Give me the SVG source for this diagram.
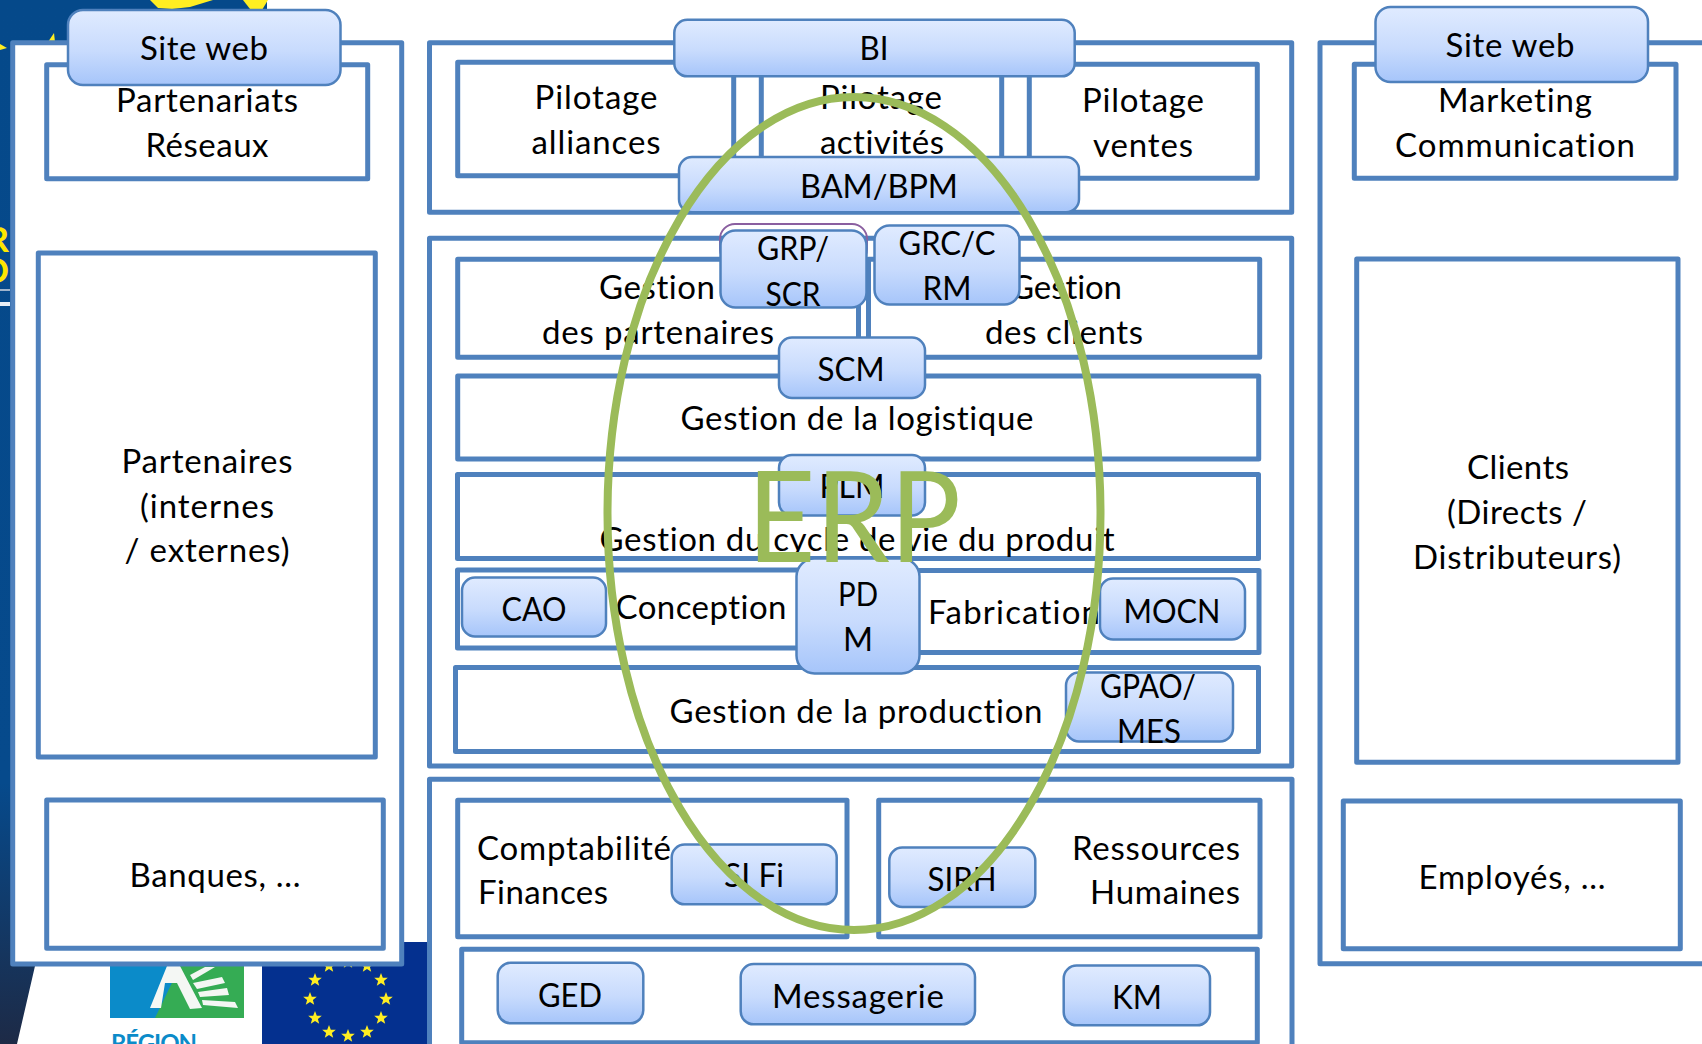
<svg xmlns="http://www.w3.org/2000/svg" width="1702" height="1044" viewBox="0 0 1702 1044">
<style>
text{font-family:"Lato","Noto Sans","Liberation Sans",sans-serif;font-size:33px;fill:#000;text-anchor:middle;font-variant-ligatures:none}
.p{fill:#fff;stroke:#4F81BD;stroke-width:5;stroke-linejoin:round}
.b{fill:url(#bg);stroke:#4F81BD;stroke-width:2.5}
.s{text-anchor:start}
.e{text-anchor:end}
.st{fill:#ffee22}
.w{fill:#f4f7f4}
.y{font-size:35px;font-weight:700;fill:#fde600;text-anchor:end}
</style>
<defs>
<linearGradient id="bg" x1="0" y1="0" x2="0" y2="1"><stop offset="0" stop-color="#E0EBFF"/><stop offset="0.55" stop-color="#C8DBFD"/><stop offset="1" stop-color="#A6C5FA"/></linearGradient>
<linearGradient id="dark" x1="0" y1="0" x2="0" y2="1"><stop offset="0" stop-color="#05498A"/><stop offset="0.75" stop-color="#064A8C"/><stop offset="1" stop-color="#1D2A46"/></linearGradient>
<polygon id="star" points="0,-7 1.8,-2.3 6.8,-2.2 2.9,0.9 4.2,5.7 0,3 -4.2,5.7 -2.9,0.9 -6.8,-2.2 -1.8,-2.3"/>
</defs>
<rect width="1702" height="1044" fill="#fff"/>
<g id="background">
<polygon points="0,0 267,0 267,42 404,42 404,966 35,966 17,1044 0,1044" fill="url(#dark)"/>
<polygon class="st" points="150,0 213,0 190,7 172,9 158,8"/>
<polygon class="st" points="243,0 268,0 262,10 250,9"/>
<polygon class="st" points="48,42 54,33 55,42"/>
<polygon class="st" points="0,44 7,48 0,50"/>
<text x="9" y="252" class="y">R</text>
<text x="9" y="283" class="y">O</text>
<rect x="0" y="289" width="10" height="2" fill="#9fb4cc"/>
<rect x="0" y="302" width="10" height="4" fill="#e8eef5"/>
<rect x="110" y="960" width="134" height="58" fill="#0B8BC9"/>
<polygon points="155,1018 183,960 244,960 244,1018" fill="#35AC54"/>
<polygon class="w" points="150,1008 167,966 180,966 202,1008 190,1009 177,983 165,983 161,1008"/>
<polygon class="w" points="190,975 205,967 215,967 193,980"/>
<polygon class="w" points="193,983 222,977 225,983 197,989"/>
<polygon class="w" points="198,992 227,988 229,995 200,997"/>
<polygon class="w" points="202,1000 235,1002 238,1008 203,1005"/>
<text x="111" y="1052" class="s" style="font-size:24px;font-weight:700;fill:#0B8BC9" textLength="86">RÉGION</text>
<rect x="262" y="942" width="165" height="102" fill="#04308F"/>
<g class="st">
<use href="#star" x="348" y="962"/><use href="#star" x="367" y="966"/><use href="#star" x="381" y="980"/><use href="#star" x="386" y="999"/><use href="#star" x="381" y="1018"/><use href="#star" x="367" y="1032"/><use href="#star" x="348" y="1036"/><use href="#star" x="329" y="1032"/><use href="#star" x="315" y="1018"/><use href="#star" x="310" y="999"/><use href="#star" x="315" y="980"/><use href="#star" x="329" y="966"/>
</g>
</g>

<g id="panel-left"><rect class="p" x="12.700" y="42.700" width="389" height="921.300"/></g>
<g id="partenariats"><rect class="p" x="46.700" y="64.700" width="321" height="114"/>
<text x="207" y="112" textLength="182">Partenariats</text><text x="207" y="157" textLength="123">Réseaux</text></g>
<g id="site-web-left"><rect class="b" x="68" y="10" width="272.500" height="75" rx="15"/><text x="204" y="60" textLength="128">Site web</text></g>
<g id="partenaires"><rect class="p" x="38.300" y="253" width="337" height="504"/>
<text x="207" y="473" textLength="171">Partenaires</text><text x="207" y="518" textLength="134">(internes</text><text x="207" y="562" textLength="165">/ externes)</text></g>
<g id="banques"><rect class="p" x="46.700" y="800" width="336.600" height="148.300"/><text x="215" y="887" textLength="171">Banques, …</text></g>

<g id="panel-top"><rect class="p" x="429.500" y="42.700" width="862.200" height="169.600"/></g>
<g id="pilotage-alliances"><rect class="p" x="457.700" y="62.300" width="276" height="113.400"/>
<text x="596" y="109" textLength="123">Pilotage</text><text x="596" y="154" textLength="129">alliances</text></g>
<g id="pilotage-activites"><rect class="p" x="761.300" y="62.300" width="240.400" height="113.400"/>
<text x="881" y="109" textLength="122">Pilotage</text><text x="882" y="154" textLength="124">activités</text></g>
<g id="pilotage-ventes"><rect class="p" x="1029.300" y="64.300" width="228" height="114"/>
<text x="1143" y="112" textLength="122">Pilotage</text><text x="1143" y="157" textLength="100">ventes</text></g>
<g id="bi"><rect class="b" x="674.300" y="19.800" width="400.400" height="56.500" rx="13"/><text x="874" y="60" textLength="29" lengthAdjust="spacingAndGlyphs">BI</text></g>
<g id="bam-bpm"><rect class="b" x="679" y="157" width="400" height="55.300" rx="13"/><text x="879" y="198" textLength="158" lengthAdjust="spacingAndGlyphs">BAM/BPM</text></g>

<g id="panel-middle"><rect class="p" x="429.500" y="238.300" width="862.200" height="527.700"/></g>
<g id="gestion-partenaires"><rect class="p" x="457.700" y="259.300" width="400.800" height="98"/>
<text x="657" y="299" textLength="116">Gestion</text><text x="658" y="344" textLength="232">des partenaires</text></g>
<g id="gestion-clients"><rect class="p" x="868.500" y="259.300" width="391.200" height="98"/>
<text x="1066" y="299" textLength="112">Gestion</text><text x="1064" y="344" textLength="158">des clients</text></g>
<g id="gestion-logistique"><rect class="p" x="457.700" y="376" width="801" height="83"/><text x="857" y="430" textLength="353">Gestion de la logistique</text></g>
<g id="gestion-cycle"><rect class="p" x="457.500" y="474.500" width="801" height="84"/><text x="857" y="551" textLength="515">Gestion du cycle de vie du produit</text></g>
<g id="conception"><rect class="p" x="457.500" y="570" width="380" height="78"/><text x="701" y="619" textLength="171">Conception</text></g>
<g id="fabrication"><rect class="p" x="850" y="570.500" width="409" height="82"/><text x="1014" y="624" textLength="172">Fabrication</text></g>
<g id="gestion-production"><rect class="p" x="455.500" y="667.500" width="803" height="84"/><text x="856" y="723" textLength="373">Gestion de la production</text></g>
<rect x="720" y="224" width="147" height="40" rx="15" fill="none" stroke="#8A5FA0" stroke-width="2"/>
<g id="grp-scr"><rect class="b" x="720.500" y="230.500" width="146" height="77" rx="15"/><text x="793" y="260" textLength="72" lengthAdjust="spacingAndGlyphs">GRP/</text><text x="793" y="306" textLength="55" lengthAdjust="spacingAndGlyphs">SCR</text></g>
<g id="grc-crm"><rect class="b" x="874.500" y="225.500" width="145" height="79" rx="15"/><text x="947" y="255" textLength="97" lengthAdjust="spacingAndGlyphs">GRC/C</text><text x="947" y="300" textLength="49" lengthAdjust="spacingAndGlyphs">RM</text></g>
<g id="scm"><rect class="b" x="779" y="337.500" width="146" height="60.500" rx="13"/><text x="851" y="381" textLength="67" lengthAdjust="spacingAndGlyphs">SCM</text></g>
<g id="plm"><rect class="b" x="779" y="455" width="146" height="60.500" rx="13"/><text x="852" y="498" textLength="65" lengthAdjust="spacingAndGlyphs">PLM</text></g>
<g id="pdm"><rect class="b" x="796.500" y="558.500" width="123" height="115" rx="18"/><text x="858" y="606" textLength="40" lengthAdjust="spacingAndGlyphs">PD</text><text x="858" y="651" textLength="30" lengthAdjust="spacingAndGlyphs">M</text></g>
<g id="cao"><rect class="b" x="462" y="577.500" width="144" height="59" rx="13"/><text x="534" y="621" textLength="65" lengthAdjust="spacingAndGlyphs">CAO</text></g>
<g id="mocn"><rect class="b" x="1100" y="578.500" width="145" height="61" rx="13"/><text x="1172" y="623" textLength="97" lengthAdjust="spacingAndGlyphs">MOCN</text></g>
<g id="gpao-mes"><rect class="b" x="1066" y="672.500" width="167" height="69" rx="13"/><text x="1148" y="698" textLength="96" lengthAdjust="spacingAndGlyphs">GPAO/</text><text x="1149" y="743" textLength="64" lengthAdjust="spacingAndGlyphs">MES</text></g>

<g id="panel-bottom"><rect class="p" x="429.500" y="779.300" width="862.500" height="275"/></g>
<g id="comptabilite"><rect class="p" x="457.700" y="800.300" width="389.300" height="136.400"/>
<text x="477" y="860" class="s" textLength="194">Comptabilité</text><text x="478" y="904" class="s" textLength="130">Finances</text></g>
<g id="ressources"><rect class="p" x="878.700" y="800.300" width="381.300" height="136.400"/>
<text x="1240" y="860" class="e" textLength="168">Ressources</text><text x="1240" y="904" class="e" textLength="150">Humaines</text></g>
<g id="si-fi"><rect class="b" x="671.700" y="844.500" width="165" height="59.800" rx="13"/><text x="754" y="887" textLength="60" lengthAdjust="spacingAndGlyphs">SI Fi</text></g>
<g id="sirh"><rect class="b" x="889.300" y="847.500" width="146" height="59.500" rx="13"/><text x="962" y="891" textLength="69" lengthAdjust="spacingAndGlyphs">SIRH</text></g>
<g id="outils"><rect class="p" x="461.700" y="949.300" width="795.600" height="93.400"/></g>
<g id="ged"><rect class="b" x="497.700" y="962.800" width="145.600" height="60.500" rx="13"/><text x="570" y="1007" textLength="64" lengthAdjust="spacingAndGlyphs">GED</text></g>
<g id="messagerie"><rect class="b" x="740.700" y="964" width="234.300" height="60.300" rx="13"/><text x="858" y="1008" textLength="172">Messagerie</text></g>
<g id="km"><rect class="b" x="1063.700" y="965.500" width="146.300" height="59.800" rx="13"/><text x="1137" y="1009" textLength="50" lengthAdjust="spacingAndGlyphs">KM</text></g>

<g id="panel-right"><rect class="p" x="1320" y="42.700" width="402" height="921"/></g>
<g id="marketing"><rect class="p" x="1354.300" y="64.300" width="321.700" height="114"/>
<text x="1515" y="112" textLength="154">Marketing</text><text x="1515" y="157" textLength="240">Communication</text></g>
<g id="site-web-right"><rect class="b" x="1375.500" y="7" width="272.500" height="75" rx="15"/><text x="1510" y="57" textLength="129">Site web</text></g>
<g id="clients"><rect class="p" x="1356.700" y="259" width="321.300" height="503.300"/>
<text x="1518" y="479" textLength="102">Clients</text><text x="1517" y="524" textLength="140">(Directs /</text><text x="1517" y="569" textLength="208">Distributeurs)</text></g>
<g id="employes"><rect class="p" x="1343.300" y="801" width="337" height="147.700"/><text x="1512" y="889" textLength="187">Employés, …</text></g>

<g id="erp">
<ellipse cx="854" cy="513.500" rx="246.500" ry="416.500" fill="none" stroke="#9BBB59" stroke-width="8"/>
<text x="854" y="562" textLength="214" lengthAdjust="spacingAndGlyphs" style="font-size:126px;fill:#9BBB59">ERP</text>
</g>
</svg>
